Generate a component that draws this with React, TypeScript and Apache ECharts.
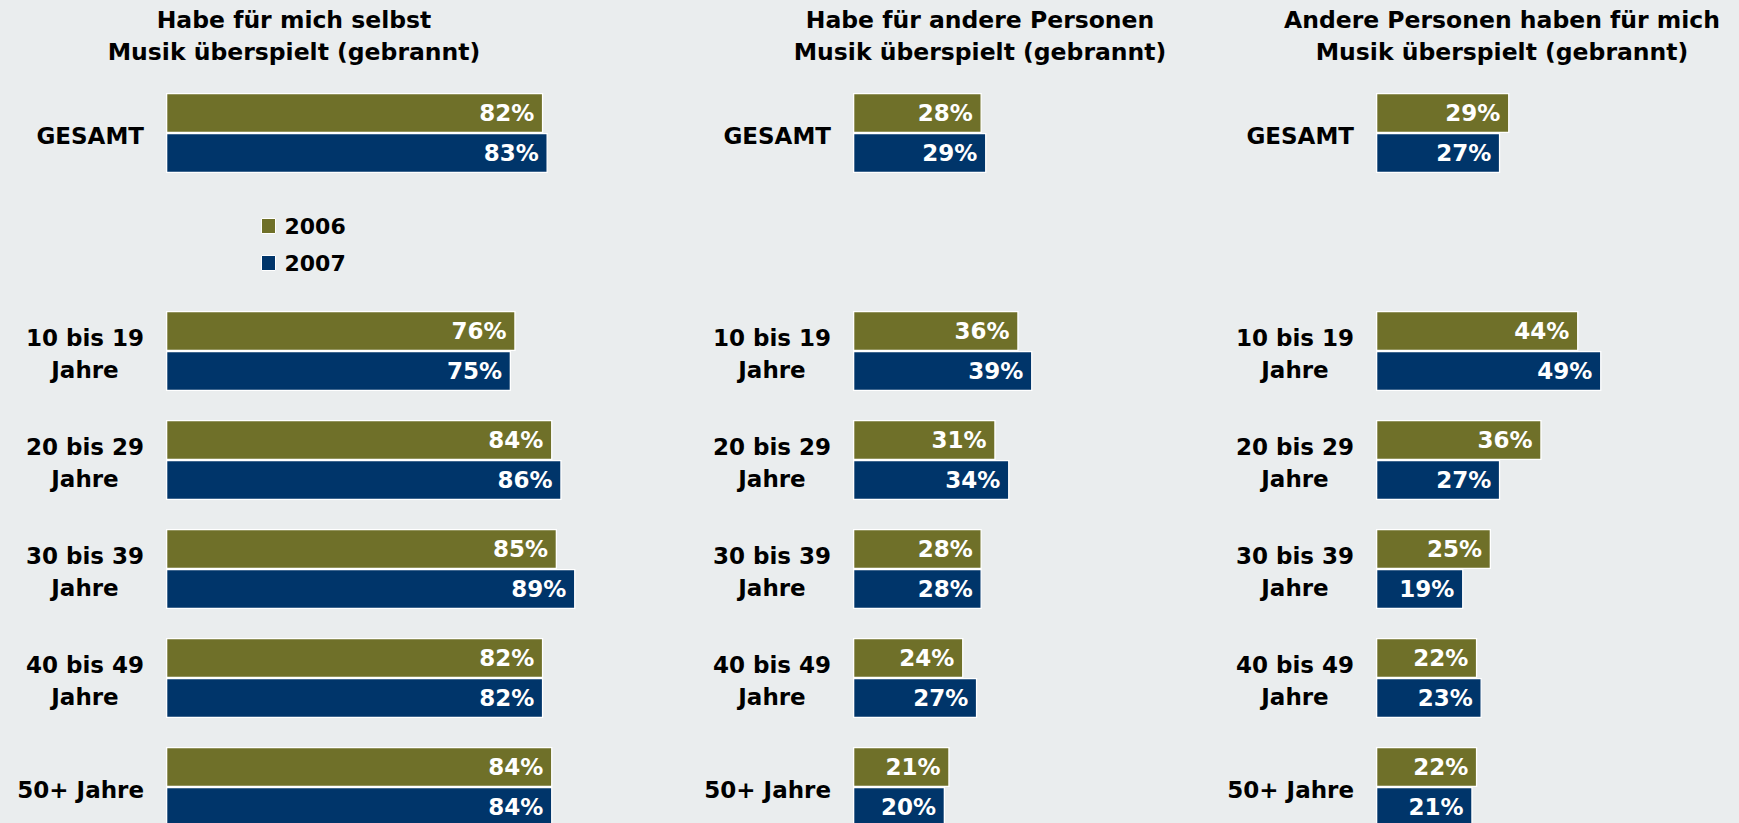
import React, { useEffect, useRef } from 'react';
import * as echarts from 'echarts';

const CATEGORIES = ['GESAMT', '', '10 bis 19\nJahre', '20 bis 29\nJahre', '30 bis 39\nJahre', '40 bis 49\nJahre', '50+ Jahre'];
const PANEL_TITLES = [
  'Habe für mich selbst\nMusik überspielt (gebrannt)',
  'Habe für andere Personen\nMusik überspielt (gebrannt)',
  'Andere Personen haben für mich\nMusik überspielt (gebrannt)',
];
const SERIES_NAMES = ['2006', '2007'];
const SELF_2006 = [82, null, 76, 84, 85, 82, 84];
const SELF_2007 = [83, null, 75, 86, 89, 82, 84];
const FOR_OTHERS_2006 = [28, null, 36, 31, 28, 24, 21];
const FOR_OTHERS_2007 = [29, null, 39, 34, 28, 27, 20];
const BY_OTHERS_2006 = [29, null, 44, 36, 25, 22, 22];
const BY_OTHERS_2007 = [27, null, 49, 27, 19, 23, 21];
const PANEL_MAX = [100, 100, 60];

const OLIVE = '#6F7029';
const NAVY = '#00356A';
const BG = '#EAEDEE';
const FONT = "'DejaVu Sans', Verdana, sans-serif";
const PX_PER_PCT = 4.6;
const PANEL_LEFT = [166, 853, 1376];
const TITLE_CENTER = [294, 980, 1502];

const panelData = [
  [SELF_2006, SELF_2007],
  [FOR_OTHERS_2006, FOR_OTHERS_2007],
  [BY_OTHERS_2006, BY_OTHERS_2007],
];

function buildOption() {
  const grid: any[] = [];
  const xAxis: any[] = [];
  const yAxis: any[] = [];
  const series: any[] = [];
  panelData.forEach((pair, i) => {
    grid.push({ left: PANEL_LEFT[i], top: 78.5, height: 763, width: PANEL_MAX[i] * PX_PER_PCT, containLabel: false });
    xAxis.push({ gridIndex: i, type: 'value', min: 0, max: PANEL_MAX[i], show: false });
    yAxis.push({
      gridIndex: i,
      type: 'category',
      inverse: true,
      data: CATEGORIES,
      axisLine: { show: false },
      axisTick: { show: false },
      splitLine: { show: false },
      axisLabel: {
        margin: 22,
        color: '#000',
        fontFamily: FONT,
        fontWeight: 'bold',
        fontSize: 23,
        lineHeight: 32,
        padding: [6, 0, 0, 0],
        formatter: (v: string) =>
          v.indexOf('\n') >= 0 ? v.split('\n').map((s) => `{c|${s}}`).join('\n') : v,
        rich: {
          c: {
            width: 118,
            align: 'center',
            color: '#000',
            fontFamily: FONT,
            fontWeight: 'bold',
            fontSize: 23,
            lineHeight: 32,
          },
        },
      },
    });
    pair.forEach((vals, j) => {
      series.push({
        name: SERIES_NAMES[j],
        type: 'bar',
        xAxisIndex: i,
        yAxisIndex: i,
        data: vals,
        barWidth: 40,
        barGap: '0%',
        itemStyle: { color: j === 0 ? OLIVE : NAVY, borderColor: '#fff', borderWidth: 1.3 },
        label: {
          show: true,
          position: 'insideRight',
          distance: 9,
          color: '#fff',
          fontFamily: FONT,
          fontWeight: 'bold',
          fontSize: 23,
          formatter: '{c}%',
        },
      });
    });
  });

  return {
    animation: false,
    backgroundColor: BG,
    legend: {
      data: SERIES_NAMES,
      orient: 'vertical',
      left: 261,
      top: 215,
      padding: 0,
      itemWidth: 14,
      itemHeight: 15,
      itemGap: 15,
      icon: 'rect',
      itemStyle: { borderColor: '#fff', borderWidth: 1 },
      textStyle: {
        color: '#000',
        fontFamily: FONT,
        fontWeight: 'bold',
        fontSize: 22,
        lineHeight: 22,
        padding: [0, 0, 0, 4],
      },
    },
    graphic: PANEL_TITLES.map((t, i) => ({
      type: 'text',
      x: TITLE_CENTER[i],
      y: 3.5,
      style: {
        text: t,
        textAlign: 'center',
        textVerticalAlign: 'top',
        fill: '#000',
        fontFamily: FONT,
        fontWeight: 'bold',
        fontSize: 23.5,
        lineHeight: 32.6,
      },
    })),
    grid,
    xAxis,
    yAxis,
    series,
  };
}

export default function App() {
  const ref = useRef<HTMLDivElement>(null);
  useEffect(() => {
    const chart = echarts.init(ref.current!, null, { renderer: 'svg' });
    chart.setOption(buildOption() as any);
    return () => chart.dispose();
  }, []);
  return (
    <div
      ref={ref}
      style={{ position: 'fixed', left: 0, top: 0, width: 1739, height: 860, background: BG }}
    />
  );
}
